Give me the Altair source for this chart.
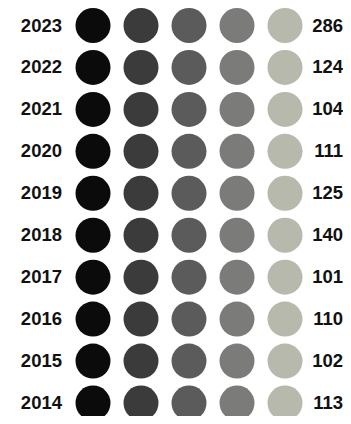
import altair as alt
import pandas as pd

years = [2023, 2022, 2021, 2020, 2019, 2018, 2017, 2016, 2015, 2014]
totals = [286, 124, 104, 111, 125, 140, 101, 110, 102, 113]
columns = [0, 1, 2, 3, 4]
colors = ["#0b0b0b", "#3b3b3b", "#5b5b5b", "#7b7c79", "#b6b9ab"]

dots = pd.DataFrame([{"year": y, "col": c} for y in years for c in columns])
labels = pd.DataFrame({"year": years, "total": totals})

FONT = "Liberation Sans Narrow, Arial Narrow, Liberation Sans, Arial, sans-serif"

xs = alt.Scale(domain=[0, 4], range=[85, 277])
ys = alt.Scale(domain=[2014, 2023], range=[395, 17.5])

circles = alt.Chart(dots).mark_circle(size=1225, opacity=1).encode(
    x=alt.X("col:Q", scale=xs, axis=None),
    y=alt.Y("year:Q", scale=ys, axis=None),
    color=alt.Color("col:O", scale=alt.Scale(domain=columns, range=colors), legend=None),
)

year_text = alt.Chart(labels).mark_text(
    align="right", baseline="middle", font=FONT, fontWeight="bold", fontSize=18.5, color="#111"
).encode(
    x=alt.value(54),
    y=alt.Y("year:Q", scale=ys, axis=None),
    text=alt.Text("year:N"),
)

total_text = alt.Chart(labels).mark_text(
    align="right", baseline="middle", font=FONT, fontWeight="bold", fontSize=18.5, color="#111"
).encode(
    x=alt.value(335),
    y=alt.Y("year:Q", scale=ys, axis=None),
    text=alt.Text("total:N"),
)

chart = alt.layer(circles, year_text, total_text).properties(
    width=335, height=408, padding=0, background="white",
    autosize=alt.AutoSizeParams(type="none")
).configure_view(stroke=None)

chart.save("out.html", embed_options={"renderer": "svg", "actions": False})
